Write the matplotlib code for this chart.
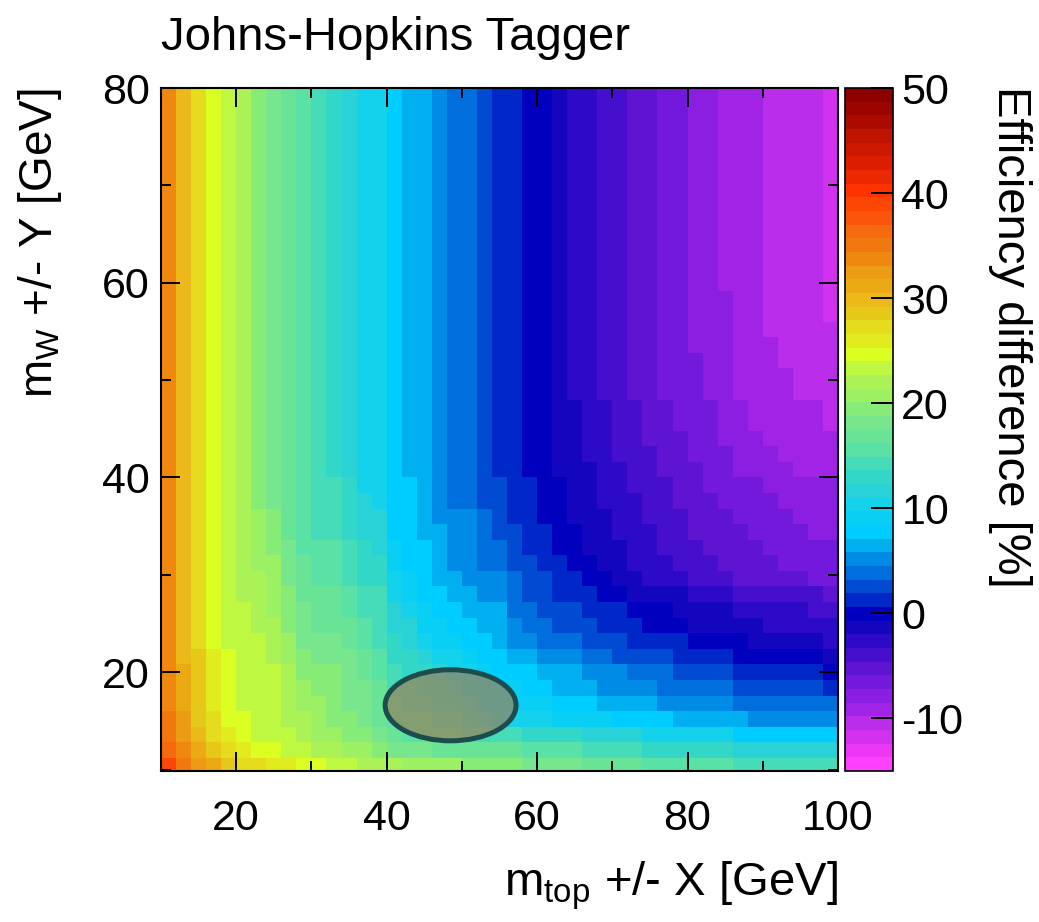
import numpy as np
import matplotlib
matplotlib.use("Agg")
import matplotlib.pyplot as plt
from matplotlib.colors import ListedColormap, Normalize
from matplotlib.patches import Ellipse

plt.rcParams['font.family'] = ['Liberation Sans', 'DejaVu Sans']
plt.rcParams['mathtext.fontset'] = 'custom'
plt.rcParams['mathtext.rm'] = 'Liberation Sans'
plt.rcParams['mathtext.it'] = 'Liberation Sans:italic'
plt.rcParams['axes.unicode_minus'] = False

# bin edges of the 2D histogram (GeV)
x_edges = np.arange(10, 100.1, 2.0)     # 45 bins in m_top window X
y_edges = np.arange(9.6, 80.01, 1.6)    # 44 bins in m_W window Y

# efficiency difference [%], one row per Y bin, bottom row (Y~10) first
eff_diff = [
    [39,35,32,31,29, 27,27,26,26,25, 25,23,23,22,22, 22,21,21,21,21, 19,19,19,19,18, 18,18,18,17,17, 17,17,16,16,16, 16,16,16,14,14, 14,14,14,14,14],
    [36,34,31,29,27, 26,25,25,23,23, 22,22,21,21,19, 18,18,18,17,17, 17,17,17,17,16, 16,16,16,14,14, 14,14,13,13,13, 13,13,13,12,12, 12,12,12,12,12],
    [35,32,30,27,26, 25,23,23,23,22, 21,21,19,19,18, 17,16,16,16,16, 14,14,14,14,13, 13,13,13,12,12, 12,12,10,10,10, 10,10,10,8,8, 8,8,8,8,8],
    [35,32,29,27,25, 25,23,23,22,22, 21,19,19,18,17, 16,16,16,14,14, 13,12,10,10,10, 10,9,9,9,9, 8,8,8,8,6, 6,6,6,6,5, 5,5,5,5,5],
    [34,31,29,26,25, 23,23,23,22,21, 21,19,18,18,17, 16,14,14,13,13, 12,10,9,9,9, 9,8,8,8,6, 6,6,6,5,5, 5,5,5,4,4, 4,4,4,4,4],
    [34,31,29,26,25, 23,23,23,22,21, 19,19,18,18,17, 14,14,13,13,12, 10,10,9,9,8, 8,6,6,6,5, 5,5,5,4,4, 4,4,4,3,3, 3,3,3,3,1],
    [34,31,29,26,25, 23,23,23,22,19, 19,19,18,17,16, 14,13,13,12,10, 10,9,8,8,8, 6,6,6,5,5, 5,4,4,4,3, 3,3,3,1,1, 1,1,1,1,0],
    [34,30,29,26,25, 23,23,22,21,19, 18,18,18,17,16, 13,13,12,10,10, 9,8,8,6,6, 5,5,5,4,4, 3,3,3,3,1, 1,1,1,0,0, 0,0,0,0,-1],
    [34,30,27,25,23, 23,23,22,21,18, 18,18,17,16,14, 13,12,10,9,9, 8,8,6,5,5, 4,4,4,3,3, 3,1,1,1,1, 0,0,0,0,-1, -1,-1,-1,-1,-3],
    [34,30,27,25,23, 23,22,22,19,18, 17,17,17,16,14, 12,12,9,9,8, 8,6,6,5,4, 4,3,3,3,1, 1,1,0,0,0, -1,-1,-1,-1,-1, -3,-3,-3,-3,-3],
    [34,30,27,25,23, 23,22,21,19,18, 17,17,16,14,14, 12,10,9,8,8, 6,6,6,4,4, 3,3,3,1,1, 1,0,0,0,-1, -1,-1,-1,-3,-3, -3,-3,-3,-4,-4],
    [34,30,27,25,23, 22,22,21,19,17, 17,17,16,14,14, 10,9,8,8,6, 6,5,5,4,3, 3,1,1,1,0, 0,-1,-1,-1,-1, -3,-3,-3,-4,-4, -4,-4,-4,-4,-5],
    [34,30,27,25,23, 22,22,21,18,17, 16,16,14,13,13, 10,9,8,6,6, 5,5,5,4,3, 3,1,1,0,0, -1,-1,-3,-3,-3, -4,-4,-4,-5,-5, -5,-5,-5,-7,-7],
    [34,30,27,25,23, 22,21,21,18,17, 16,16,14,13,13, 9,8,8,6,5, 5,4,4,3,3, 1,1,0,0,-1, -1,-3,-3,-3,-4, -4,-4,-5,-5,-5, -5,-7,-7,-7,-7],
    [34,30,27,25,23, 22,21,19,18,16, 16,16,14,13,12, 9,8,8,6,5, 5,4,4,3,1, 1,0,0,-1,-1, -1,-3,-3,-4,-4, -4,-5,-5,-5,-5, -7,-7,-7,-7,-7],
    [34,30,27,25,23, 22,21,19,17,16, 14,14,13,12,12, 8,8,6,6,5, 5,4,3,3,1, 1,0,0,-1,-1, -3,-3,-3,-4,-4, -5,-5,-5,-5,-7, -7,-7,-7,-8,-8],
    [34,30,27,25,23, 22,21,19,17,16, 14,14,13,12,12, 8,8,6,5,5, 5,4,3,1,1, 0,0,-1,-1,-1, -3,-3,-4,-4,-4, -5,-5,-5,-7,-7, -7,-7,-8,-8,-8],
    [34,30,27,25,23, 22,19,18,17,16, 14,14,13,12,10, 8,8,6,5,4, 4,3,3,1,1, 0,0,-1,-1,-3, -3,-3,-4,-4,-5, -5,-5,-7,-7,-7, -7,-8,-8,-8,-8],
    [34,30,27,25,23, 22,19,18,17,16, 14,14,13,10,10, 8,8,6,5,4, 4,3,3,1,1, 0,0,-1,-1,-3, -3,-4,-4,-4,-5, -5,-7,-7,-7,-7, -8,-8,-8,-8,-8],
    [34,30,27,25,23, 22,19,18,17,16, 14,13,12,10,10, 8,6,6,5,4, 4,3,1,1,0, 0,-1,-1,-1,-3, -3,-4,-4,-5,-5, -5,-7,-7,-8,-8, -8,-8,-9,-9,-9],
    [34,30,27,25,23, 22,19,18,17,16, 14,13,12,10,10, 8,6,6,5,4, 4,3,1,1,0, 0,-1,-1,-3,-3, -4,-4,-4,-5,-5, -7,-7,-7,-8,-8, -8,-9,-9,-9,-9],
    [34,30,27,25,23, 22,19,18,17,16, 14,13,12,10,10, 8,6,6,5,4, 4,3,1,1,0, 0,-1,-1,-3,-3, -4,-4,-5,-5,-5, -7,-7,-8,-8,-8, -9,-9,-9,-9,-9],
    [34,30,27,25,23, 22,19,18,17,16, 14,13,12,10,10, 8,6,6,5,4, 4,3,1,1,0, 0,-1,-1,-3,-3, -4,-4,-5,-5,-7, -7,-7,-8,-8,-9, -9,-9,-9,-9,-10],
    [34,30,27,25,23, 22,19,18,17,16, 14,13,12,10,10, 8,6,6,5,4, 4,3,1,1,0, 0,-1,-1,-3,-3, -4,-4,-5,-5,-7, -7,-7,-8,-8,-9, -9,-9,-9,-9,-10],
    [34,30,27,25,23, 22,19,18,17,16, 14,13,12,10,10, 8,6,6,5,4, 4,3,1,1,0, 0,-1,-3,-3,-4, -4,-5,-5,-7,-7, -7,-8,-8,-9,-9, -9,-9,-10,-10,-10],
    [34,30,27,25,23, 22,19,18,17,16, 14,13,12,10,10, 8,6,6,5,4, 4,3,1,1,0, 0,-1,-3,-3,-4, -4,-5,-5,-7,-7, -7,-8,-8,-9,-9, -9,-9,-10,-10,-10],
    [34,30,27,25,23, 22,19,18,17,16, 14,13,12,10,10, 8,6,6,5,4, 4,3,1,1,0, 0,-1,-3,-3,-4, -4,-5,-5,-7,-7, -7,-8,-8,-9,-9, -9,-10,-10,-10,-10],
    [34,30,27,25,23, 22,19,18,17,16, 14,13,12,10,10, 8,6,6,5,4, 4,3,1,1,0, 0,-1,-3,-3,-4, -4,-5,-5,-7,-7, -8,-8,-8,-9,-9, -9,-10,-10,-10,-10],
    [34,30,27,25,23, 22,19,18,17,16, 14,13,12,10,10, 8,6,6,5,4, 4,3,1,1,0, 0,-1,-3,-3,-4, -4,-5,-5,-7,-7, -8,-8,-8,-9,-9, -10,-10,-10,-10,-10],
    [34,30,27,25,23, 22,19,18,17,16, 14,13,12,10,10, 8,6,6,5,4, 4,3,1,1,0, 0,-1,-3,-3,-4, -4,-5,-5,-7,-7, -8,-8,-8,-9,-9, -10,-10,-10,-10,-12],
    [34,30,27,25,23, 22,19,18,17,16, 14,13,12,10,10, 8,6,6,5,4, 4,3,1,1,0, 0,-1,-3,-3,-4, -4,-5,-5,-7,-7, -8,-8,-8,-9,-9, -10,-10,-10,-10,-12],
    [34,30,27,25,23, 22,19,18,17,16, 14,13,12,10,10, 8,6,6,5,4, 4,3,1,1,0, 0,-1,-3,-3,-4, -4,-5,-5,-7,-7, -8,-8,-9,-9,-9, -10,-10,-10,-10,-12],
    [34,30,27,25,23, 22,19,18,17,16, 14,13,12,10,10, 8,6,6,5,4, 4,3,1,1,0, 0,-1,-3,-3,-4, -4,-5,-5,-7,-7, -8,-8,-9,-9,-9, -10,-10,-10,-10,-12],
    [34,30,27,25,23, 22,19,18,17,16, 14,13,12,10,10, 8,6,6,5,4, 4,3,1,1,0, 0,-1,-3,-3,-4, -4,-5,-5,-7,-7, -8,-8,-9,-9,-9, -10,-10,-10,-10,-12],
    [34,30,27,25,23, 22,19,18,17,16, 14,13,12,10,10, 8,6,6,5,4, 4,3,1,1,0, 0,-1,-3,-3,-4, -4,-5,-5,-7,-7, -8,-8,-9,-9,-9, -10,-10,-10,-10,-12],
    [34,30,27,25,23, 22,19,18,17,16, 14,13,12,10,10, 8,6,6,5,4, 4,3,1,1,0, 0,-1,-3,-3,-4, -4,-5,-5,-7,-7, -8,-8,-9,-9,-9, -10,-10,-10,-10,-12],
    [34,30,27,25,23, 22,19,18,17,16, 14,13,12,10,10, 8,6,6,5,4, 4,3,1,1,0, 0,-1,-3,-3,-4, -4,-5,-5,-7,-7, -8,-8,-9,-9,-9, -10,-10,-10,-10,-12],
    [34,30,27,25,23, 22,19,18,17,16, 14,13,12,10,10, 8,6,6,5,4, 4,3,1,1,0, 0,-1,-3,-3,-4, -4,-5,-5,-7,-7, -8,-8,-9,-9,-9, -10,-10,-10,-10,-12],
    [34,30,27,25,23, 22,19,18,17,16, 14,13,12,10,10, 8,6,6,5,4, 4,3,1,1,0, 0,-1,-3,-3,-4, -4,-5,-5,-7,-7, -8,-8,-9,-9,-9, -10,-10,-10,-10,-12],
    [34,30,27,25,23, 22,19,18,17,16, 14,13,12,10,10, 8,6,6,5,4, 4,3,1,1,0, 0,-1,-3,-3,-4, -4,-5,-5,-7,-7, -8,-8,-9,-9,-9, -10,-10,-10,-10,-12],
    [34,30,27,25,23, 22,19,18,17,16, 14,13,12,10,10, 8,6,6,5,4, 4,3,1,1,0, 0,-1,-3,-3,-4, -4,-5,-5,-7,-7, -8,-8,-9,-9,-9, -10,-10,-10,-10,-12],
    [34,30,27,25,23, 22,19,18,17,16, 14,13,12,10,10, 8,6,6,5,4, 4,3,1,1,0, 0,-1,-3,-3,-4, -4,-5,-5,-7,-7, -8,-8,-9,-9,-9, -10,-10,-10,-10,-12],
    [34,30,27,25,23, 22,19,18,17,16, 14,13,12,10,10, 8,6,6,5,4, 4,3,1,1,0, 0,-1,-3,-3,-4, -4,-5,-5,-7,-7, -8,-8,-9,-9,-9, -10,-10,-10,-10,-12],
    [34,30,27,25,23, 22,19,18,17,16, 14,13,12,10,10, 8,6,6,5,4, 4,3,1,1,0, 0,-1,-3,-3,-4, -4,-5,-5,-7,-7, -8,-8,-9,-9,-9, -10,-10,-10,-10,-12],
]

# working point marked on the plot (X, Y) and its half widths
wp_center = (48.5, 16.6)
wp_halfwidth = (8.7, 3.65)

z_min, z_max = -15, 50
cbar_ticks = [-10, 0, 10, 20, 30, 40, 50]

# 50 level palette, bottom (magenta) to top (dark red)
palette = [
    (255, 65, 255), (235, 55, 245), (210, 50, 240), (185, 45, 235), (160, 35, 230),
    (140, 30, 225), (115, 25, 220), (95, 20, 210), (70, 15, 205), (45, 10, 200),
    (20, 5, 190), (0, 0, 190), (0, 40, 200), (0, 75, 210), (0, 110, 220),
    (0, 140, 230), (0, 175, 240), (0, 205, 255), (10, 207, 245), (20, 210, 235),
    (40, 210, 215), (50, 215, 200), (70, 220, 185), (90, 225, 165), (105, 228, 150),
    (120, 230, 140), (135, 235, 120), (155, 240, 100), (170, 242, 85), (190, 248, 65),
    (220, 255, 35), (225, 235, 30), (228, 220, 28), (230, 200, 25), (235, 185, 25),
    (235, 170, 20), (235, 155, 20), (240, 135, 15), (240, 120, 15), (245, 105, 15),
    (250, 85, 10), (252, 70, 5), (255, 50, 0), (235, 40, 0), (220, 30, 0),
    (205, 25, 0), (190, 20, 0), (170, 10, 0), (155, 5, 0), (140, 0, 0),
]
cmap = ListedColormap([(r / 255, g / 255, b / 255) for r, g, b in palette])

W, H = 1039, 922
fig = plt.figure(figsize=(W / 100, H / 100), dpi=100)
ax = fig.add_axes([161 / W, 1 - 771 / H, 677 / W, 683 / H])
cax = fig.add_axes([845 / W, 1 - 771 / H, 48 / W, 683 / H])

mesh = ax.pcolormesh(x_edges, y_edges, np.array(eff_diff, dtype=float),
                     cmap=cmap, norm=Normalize(z_min, z_max))

ell = Ellipse(wp_center, 2 * wp_halfwidth[0], 2 * wp_halfwidth[1],
              facecolor=(152 / 255, 130 / 255, 90 / 255, 0.7),
              edgecolor='#1c4c4e', linewidth=3.6, zorder=5)
ax.add_patch(ell)

ax.set_xlim(10, 100)
ax.set_ylim(9.85, 80)
ax.set_xticks([20, 40, 60, 80, 100])
ax.set_xticks([30, 50, 70, 90], minor=True)
ax.set_yticks([20, 40, 60, 80])
ax.set_yticks([10, 30, 50, 70], minor=True)
ax.tick_params(which='both', direction='in', top=True, right=True, width=1.4)
ax.tick_params(which='major', length=14)
ax.tick_params(which='minor', length=7)
ax.tick_params(axis='x', labelsize=31, pad=20)
ax.tick_params(axis='y', labelsize=31, pad=8)
for s in ax.spines.values():
    s.set_linewidth(1.5)

ax.text(1.0, -0.182, r'm$_{\mathrm{top}}$ +/- X [GeV]', transform=ax.transAxes,
        ha='right', va='baseline', fontsize=34)
ax.text(-0.178, 1.0, r'm$_{\mathrm{W}}$ +/- Y [GeV]', transform=ax.transAxes,
        ha='center', va='top', rotation=90, fontsize=33)

cb = fig.colorbar(mesh, cax=cax)
cb.set_ticks(cbar_ticks)
cb.ax.tick_params(direction='in', length=16, width=1.4, labelsize=31, pad=6)
cb.outline.set_linewidth(1.2)
fig.text(1010 / W, 1 - 86 / H, 'Efficiency difference [%]', rotation=270,
         ha='center', va='top', fontsize=34)

fig.text(161 / W, 1 - 50 / H, 'Johns-Hopkins Tagger', ha='left', va='baseline',
         fontsize=34)

fig.savefig('out.png', dpi=100)
